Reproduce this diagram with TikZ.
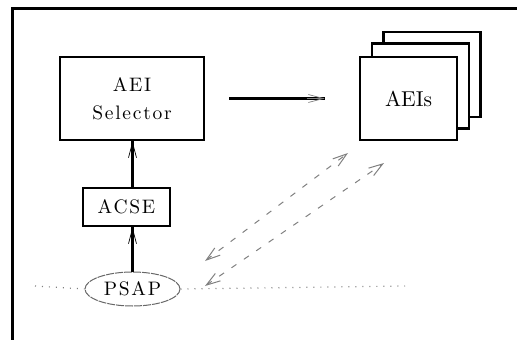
\documentclass[tikz,border=0pt]{standalone}
\usepackage{fontspec}
\usepackage{tikz}
\usetikzlibrary{arrows.meta,shapes.geometric}
% 10pt design size scaled up, with open tracking for the labels
\newfontfamily\spacedfont{lmroman10-regular.otf}[LetterSpace=9]
\newfontfamily\plainfont{lmroman10-regular.otf}
\begin{document}
\begin{tikzpicture}[x=1pt,y=-1pt,
  every node/.style={font=\spacedfont\fontsize{19.5}{28.5}\selectfont},
  box/.style={draw,line width=2.6pt,fill=white,inner sep=0pt},
  frameline/.style={line width=2.6pt,line cap=rect},
  thick line/.style={line width=2.4pt},
  thin tip/.style={line width=0.7pt,-{Straight Barb[length=15pt,width=8pt]}},
  dotline/.style={gray,line width=1.2pt,dash pattern=on 1pt off 6pt},
  dashlink/.style={gray,line width=1pt,dash pattern=on 6pt off 9pt,
    {Straight Barb[length=14pt,width=9pt]}-{Straight Barb[length=14pt,width=9pt]}}]
\useasboundingbox (0,0) rectangle (517,340);

% frame edges
\draw[frameline] (12.5,340) -- (12.5,8.5) -- (517,8.5);

% selector
\node[box,minimum width=144pt,minimum height=83pt,align=center] (sel) at (132,98.5) {AEI\\Selector};

% stacked entity boxes
\node[box,minimum width=97pt,minimum height=85pt] (aei3) at (432,74.5) {};
\node[box,minimum width=97pt,minimum height=85pt] (aei2) at (420.5,86) {};
\node[box,minimum width=97pt,minimum height=83pt,font=\plainfont\fontsize{21.5}{26}\selectfont] (aei) at (408.5,98.5) {AEIs};

% ACSE and PSAP
\node[box,minimum width=87pt,minimum height=38pt] (acse) at (126.5,207) {ACSE};
\node[ellipse,draw=gray!80!black,line width=1pt,dash pattern=on 8pt off 1pt,
  minimum width=95pt,minimum height=34pt,inner sep=0pt] (psap) at (132.5,289) {PSAP};

% service boundary
\coordinate (dl) at (35,286);
\coordinate (dr) at (405,286);
\draw[dotline] (dl) -- (psap.west);
\draw[dotline] (psap.east) -- (dr);

% selector to entities
\coordinate (h1) at ([xshift=24pt]sel.east);
\coordinate (h2) at ([xshift=-34pt]aei.west);
\draw[line width=2.6pt] (h1) -- (h2);
\draw[gray,thin tip] ([xshift=-18pt]h2) -- (h2);

% vertical links
\draw[thick line] (psap.north) -- (psap.north |- acse.south);
\draw[thin tip] ([yshift=-16pt]psap.north |- acse.south) -- (psap.north |- acse.south);
\draw[thick line] (psap.north |- acse.north) -- (psap.north |- sel.south);
\draw[thin tip] ([yshift=-16pt]psap.north |- sel.south) -- (psap.north |- sel.south);

% dashed links
\coordinate (a1) at (348,153);
\coordinate (b1) at (205,261);
\coordinate (a2) at (384,163);
\coordinate (b2) at (205,286);
\draw[dashlink] (b1) -- (a1);
\draw[dashlink] (b2) -- (a2);
\end{tikzpicture}
\end{document}
